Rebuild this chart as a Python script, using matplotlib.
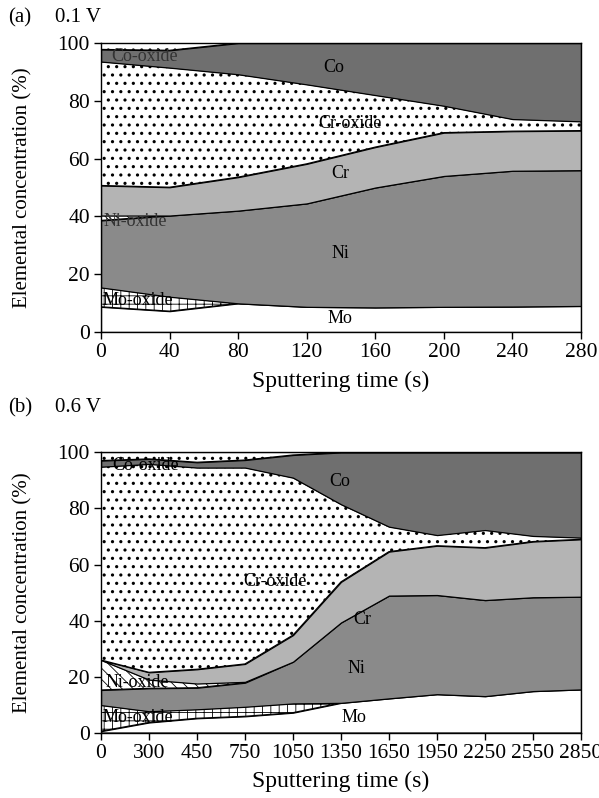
import numpy as np
import matplotlib as mpl
import matplotlib.pyplot as plt

plt.rcParams['font.family'] = 'Liberation Serif'
plt.rcParams['hatch.linewidth'] = 0.6

# (a) 0.1 V  -- concentrations (%)
time_a = [0, 40, 80, 120, 160, 200, 240, 280]
mo_a = [8.7, 7.2, 9.9, 8.7, 8.5, 8.7, 8.8, 9.0]
mo_ox_a = [6.7, 5.0, 0, 0, 0, 0, 0, 0]
ni_a = [23.2, 28.1, 32.1, 35.8, 41.5, 45.3, 47.0, 47.0]
ni_ox_a = [1.7, 0, 0, 0, 0, 0, 0, 0]
cr_a = [10.4, 9.8, 11.6, 13.7, 14.0, 15.0, 13.7, 13.7]
cr_ox_a = [42.9, 41.4, 35.6, 27.5, 18.0, 9.3, 4.2, 3.2]
co_a = [4.2, 6.0, 10.8, 14.3, 18.0, 21.7, 26.3, 27.1]   # Co + Co-oxide

# (b) 0.6 V
time_b = ['0', '300', '450', '750', '1050', '1350', '1650', '1950', '2250', '2550', '2850']
mo_b = [0.5, 3.6, 5.1, 5.8, 7.1, 10.6, 12.2, 13.7, 13.0, 14.8, 15.4]
mo_ox_b = [9.3, 4.0, 3.2, 3.4, 3.3, 0, 0, 0, 0, 0, 0]
ni_b = [5.4, 8.2, 7.7, 8.6, 14.9, 28.7, 36.7, 35.4, 34.3, 33.5, 33.1]
ni_ox_b = [10.7, 3.1, 1.5, 0.3, 0, 0, 0, 0, 0, 0, 0]
cr_b = [0, 2.6, 5.1, 6.4, 9.5, 14.5, 15.7, 17.6, 18.7, 19.9, 20.5]
cr_ox_b = [69.0, 74.4, 72.0, 70.1, 56.2, 27.7, 8.9, 3.8, 6.3, 2.0, 0.6]
co_b = [2.2, 1.8, 1.9, 2.7, 8.1, 18.5, 26.5, 29.5, 27.7, 29.8, 30.4]  # Co + Co-oxide

c_mo, c_ni, c_cr, c_co = 'white', '#8a8a8a', '#b4b4b4', '#6f6f6f'


def fill(ax, x, lo, hi, color, hatch):
    # dots get a slightly thicker hatch pen so they look like the printed ones
    lw = 1.1 if hatch == '..' else 0.6
    with mpl.rc_context({'hatch.linewidth': lw}):
        ax.fill_between(x, lo, hi, facecolor=color, edgecolor='black',
                        hatch=hatch, linewidth=0.9)


def stack(ax, x, layers):
    bottom = np.zeros(len(x))
    for vals, color, hatch in layers:
        top = bottom + np.array(vals)
        fill(ax, x, bottom, top, color, hatch)
        bottom = top
    # remainder up to 100 % (dotted strip at the top)
    fill(ax, x, bottom, 100, 'white', '..')


fig = plt.figure(figsize=(5.99, 7.98), dpi=100)
ax1 = fig.add_axes([0.1686, 0.584, 0.8014, 0.362])
ax2 = fig.add_axes([0.1686, 0.082, 0.8014, 0.351])

xa = np.array(time_a)
stack(ax1, xa, [(mo_a, c_mo, None), (mo_ox_a, 'white', '++'), (ni_a, c_ni, None),
                (ni_ox_a, 'white', '\\\\\\'), (cr_a, c_cr, None),
                (cr_ox_a, 'white', '..'), (co_a, c_co, None)])
ax1.set_xlim(0, 280)
ax1.set_xticks(time_a)

xb = np.arange(len(time_b))
stack(ax2, xb, [(mo_b, c_mo, None), (mo_ox_b, 'white', '++'), (ni_b, c_ni, None),
                (ni_ox_b, 'white', '\\\\\\'), (cr_b, c_cr, None),
                (cr_ox_b, 'white', '..'), (co_b, c_co, None)])
ax2.set_xlim(0, len(time_b) - 1)
ax2.set_xticks(xb)
ax2.set_xticklabels(time_b)

for ax in (ax1, ax2):
    ax.set_ylim(0, 100)
    ax.set_yticks(range(0, 101, 20))
    ax.tick_params(direction='out', length=5, width=1, labelsize=15.5, pad=3)
    ax.set_ylabel('Elemental concentration (%)', fontsize=15, labelpad=18)
    ax.set_xlabel('Sputtering time (s)', fontsize=17, labelpad=6)
    for s in ax.spines.values():
        s.set_linewidth(1)

kw = dict(fontsize=13, ha='center', va='center')
ax1.text(25.7, 95.2, 'Co-oxide', color='#333333', **kw)
ax1.text(135.5, 91.4, 'Co', **kw)
ax1.text(145, 72.1, 'Cr-oxide', **kw)
ax1.text(139.6, 54.8, 'Cr', **kw)
ax1.text(19.9, 38.3, 'Ni-oxide', color='#333333', **kw)
ax1.text(139.6, 27.2, 'Ni', **kw)
ax1.text(21.6, 11.0, 'Mo-oxide', **kw)
ax1.text(139.6, 4.5, 'Mo', **kw)

ax2.text(0.92, 95.2, 'Co-oxide', **kw)
ax2.text(4.97, 89.5, 'Co', **kw)
ax2.text(3.62, 53.8, 'Cr-oxide', **kw)
ax2.text(5.45, 40.5, 'Cr', **kw)
ax2.text(0.75, 18.0, 'Ni-oxide', **kw)
ax2.text(5.33, 22.7, 'Ni', **kw)
ax2.text(0.77, 5.5, 'Mo-oxide', **kw)
ax2.text(5.28, 5.2, 'Mo', **kw)

fig.text(8 / 599, 1 - 18 / 798, '(a)', fontsize=15, va='center')
fig.text(55 / 599, 1 - 18 / 798, '0.1 V', fontsize=15, va='center')
fig.text(8 / 599, 1 - 408 / 798, '(b)', fontsize=15, va='center')
fig.text(55 / 599, 1 - 408 / 798, '0.6 V', fontsize=15, va='center')

fig.savefig('out.png', dpi=100)
